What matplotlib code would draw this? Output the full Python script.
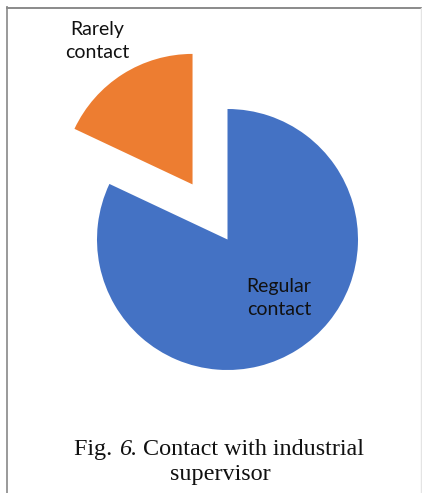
import matplotlib
matplotlib.use("Agg")
import matplotlib.pyplot as plt
from matplotlib.lines import Line2D

# Survey result: how often students contacted their industrial supervisor
categories = ["Regular\ncontact", "Rarely\ncontact"]
shares = [82, 18]
colors = ["#4472C4", "#ED7D31"]
explode_frac = [0.0, 0.5]
caption_parts = [("Fig. ", "normal"), ("6.", "italic"), (" Contact with industrial", "normal")]
caption_line2 = "supervisor"

W, H = 422, 493
fig = plt.figure(figsize=(W / 100, H / 100), dpi=100)
ax = fig.add_axes([0, 0, 1, 1])

R = 130.5
cx, cy = 227.5, H - 239.5
ax.pie(
    shares,
    colors=colors,
    startangle=90,
    counterclock=False,
    radius=R,
    center=(cx, cy),
    explode=[e * R for e in explode_frac],
    frame=True,
)
ax.set_xlim(0, W)
ax.set_ylim(0, H)
ax.set_aspect("equal")
ax.axis("off")

label_font = dict(family=["Lato", "DejaVu Sans"], fontsize=14, color="#111111",
                  ha="center", va="center", linespacing=1.45)
ax.text(97, H - 41, categories[1], **label_font)
ax.text(279, H - 298, categories[0], **label_font)

# Caption: first line assembled from pieces so that the figure number is italic
cap_font = dict(family="Liberation Serif", fontsize=17.4, color="#111111",
                va="baseline", ha="left")
renderer = fig.canvas.get_renderer()
pieces = [ax.text(0, H - 455, s, style=st, **cap_font) for s, st in caption_parts]
widths = [p.get_window_extent(renderer).width for p in pieces]
x = 219 - sum(widths) / 2
for p, w in zip(pieces, widths):
    p.set_x(x)
    x += w
ax.text(220, H - 480, caption_line2, **{**cap_font, "ha": "center"})

# Frame lines
fig.add_artist(Line2D([7 / W, 7 / W], [0, 1 - 7 / H], transform=fig.transFigure,
                      color="#9a9a9a", lw=1.4))
fig.add_artist(Line2D([7 / W, 1], [1 - 7.5 / H, 1 - 7.5 / H], transform=fig.transFigure,
                      color="#8a8a8a", lw=1.4))
fig.add_artist(Line2D([420.5 / W, 420.5 / W], [0, 1 - 7.5 / H], transform=fig.transFigure,
                      color="#e4e4e4", lw=1.0))

fig.savefig("out.png", dpi=100)
